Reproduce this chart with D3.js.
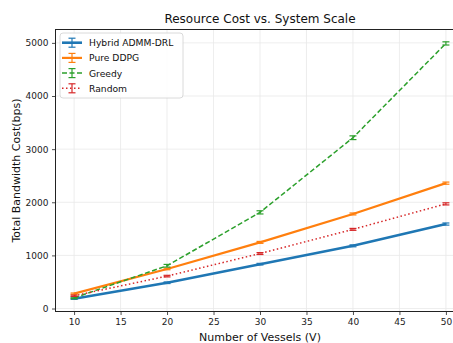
<!DOCTYPE html>
<html>
<head>
<meta charset="utf-8">
<script src="https://cdn.jsdelivr.net/npm/d3@7"></script>
<style>
  body { margin: 0; background: #fff; }
  svg { display: block; font-family: "DejaVu Sans", sans-serif; }
</style>
</head>
<body>
<div id="chart"></div>
<script>
// data
var vessels = [10, 20, 30, 40, 50];
var hybridCost = [185, 485, 835, 1180, 1590];
var ddpgCost = [280, 745, 1245, 1780, 2360];
var greedyCost = [200, 805, 1810, 3215, 4990];
var randomCost = [240, 610, 1035, 1490, 1970];
var hybridErr = [12, 15, 15, 18, 20];
var ddpgErr = [12, 15, 18, 18, 20];
var greedyErr = [15, 25, 30, 35, 30];
var randomErr = [12, 15, 18, 18, 20];
var xTicks = [10, 15, 20, 25, 30, 35, 40, 45, 50];
var yTicks = [0, 1000, 2000, 3000, 4000, 5000];

var series = [
  { name: "Hybrid ADMM-DRL", y: hybridCost, err: hybridErr, color: "#1f77b4", width: 2.6, dash: null },
  { name: "Pure DDPG", y: ddpgCost, err: ddpgErr, color: "#ff7f0e", width: 2.2, dash: null },
  { name: "Greedy", y: greedyCost, err: greedyErr, color: "#2ca02c", width: 1.5, dash: "5,2.5" },
  { name: "Random", y: randomCost, err: randomErr, color: "#d62728", width: 1.5, dash: "1.5,2.5" }
];

var width = 453;
var height = 343;
// plot box edges (axes extend past the right edge of the picture)
var pLeft = 55.5, pRight = 464.5, pTop = 29.5, pBottom = 311.5;

var svg = d3.select("#chart")
  .append("svg")
  .attr("width", width)
  .attr("height", height);

var x = d3.scaleLinear().domain([8, 52]).range([pLeft, pRight]);
var y = d3.scaleLinear().domain([-56, 5252]).range([pBottom, pTop]);

// grid
var grid = svg.append("g").attr("stroke", "#e8e8e8").attr("stroke-width", 0.8);
grid.selectAll("line.gx").data(xTicks).enter().append("line")
  .attr("x1", function(d) { return x(d); })
  .attr("x2", function(d) { return x(d); })
  .attr("y1", pTop).attr("y2", pBottom);
grid.selectAll("line.gy").data(yTicks).enter().append("line")
  .attr("x1", pLeft).attr("x2", pRight)
  .attr("y1", function(d) { return y(d); })
  .attr("y2", function(d) { return y(d); });

// lines + error bars
var line = d3.line()
  .x(function(d, i) { return x(vessels[i]); })
  .y(function(d) { return y(d); });

series.forEach(function(s) {
  var g = svg.append("g");
  g.append("path")
    .attr("d", line(s.y))
    .attr("fill", "none")
    .attr("stroke", s.color)
    .attr("stroke-width", s.width)
    .attr("stroke-dasharray", s.dash);
  s.y.forEach(function(v, i) {
    var cx = x(vessels[i]);
    g.append("line")
      .attr("x1", cx).attr("x2", cx)
      .attr("y1", y(v - s.err[i])).attr("y2", y(v + s.err[i]))
      .attr("stroke", s.color).attr("stroke-width", 1.2);
    [v - s.err[i], v + s.err[i]].forEach(function(e) {
      g.append("line")
        .attr("x1", cx - 3.5).attr("x2", cx + 3.5)
        .attr("y1", y(e)).attr("y2", y(e))
        .attr("stroke", s.color).attr("stroke-width", 1.2);
    });
  });
});

// axes
var xAxis = svg.append("g")
  .attr("transform", "translate(0," + pBottom + ")")
  .call(d3.axisBottom(x).tickValues(xTicks).tickSize(3.5).tickPadding(3.5));
var yAxis = svg.append("g")
  .attr("transform", "translate(" + pLeft + ",0)")
  .call(d3.axisLeft(y).tickValues(yTicks).tickSize(3.5).tickPadding(3.5).tickFormat(d3.format("d")));
[xAxis, yAxis].forEach(function(a) {
  a.attr("font-family", "DejaVu Sans, sans-serif").attr("font-size", 9);
  a.selectAll("text").attr("fill", "#222");
  a.select(".domain").remove();
  a.selectAll(".tick line").attr("stroke", "#222").attr("stroke-width", 0.8);
});

// frame
svg.append("rect")
  .attr("x", pLeft).attr("y", pTop)
  .attr("width", pRight - pLeft).attr("height", pBottom - pTop)
  .attr("fill", "none").attr("stroke", "#222").attr("stroke-width", 1);

// title and labels
svg.append("text")
  .attr("x", (pLeft + pRight) / 2).attr("y", 23)
  .attr("text-anchor", "middle").attr("font-size", 12).attr("fill", "#111")
  .text("Resource Cost vs. System Scale");
svg.append("text")
  .attr("x", (pLeft + pRight) / 2).attr("y", 341)
  .attr("text-anchor", "middle").attr("font-size", 11).attr("fill", "#111")
  .text("Number of Vessels (V)");
svg.append("text")
  .attr("transform", "translate(19.5," + (pTop + pBottom) / 2 + ")rotate(-90)")
  .attr("text-anchor", "middle").attr("font-size", 11).attr("fill", "#111")
  .text("Total Bandwidth Cost(bps)");

// legend
var legend = svg.append("g").attr("transform", "translate(60,33)");
legend.append("rect")
  .attr("width", 123).attr("height", 65).attr("rx", 3)
  .attr("fill", "#fff").attr("fill-opacity", 0.85)
  .attr("stroke", "#d0d0d0").attr("stroke-width", 0.8);
series.forEach(function(s, i) {
  var ly = 9.7 + i * 15.2;
  var row = legend.append("g").attr("transform", "translate(0," + ly + ")");
  row.append("line")
    .attr("x1", 2).attr("x2", 22).attr("y1", 0).attr("y2", 0)
    .attr("stroke", s.color).attr("stroke-width", s.width)
    .attr("stroke-dasharray", s.dash);
  row.append("line")
    .attr("x1", 12).attr("x2", 12).attr("y1", -4.5).attr("y2", 4.5)
    .attr("stroke", s.color).attr("stroke-width", 1.2);
  row.append("line")
    .attr("x1", 8.5).attr("x2", 15.5).attr("y1", -4.5).attr("y2", -4.5)
    .attr("stroke", s.color).attr("stroke-width", 1.2);
  row.append("line")
    .attr("x1", 8.5).attr("x2", 15.5).attr("y1", 4.5).attr("y2", 4.5)
    .attr("stroke", s.color).attr("stroke-width", 1.2);
  row.append("text")
    .attr("x", 29).attr("y", 3.4)
    .attr("font-size", 9.2).attr("fill", "#111")
    .text(s.name);
});
</script>
</body>
</html>
